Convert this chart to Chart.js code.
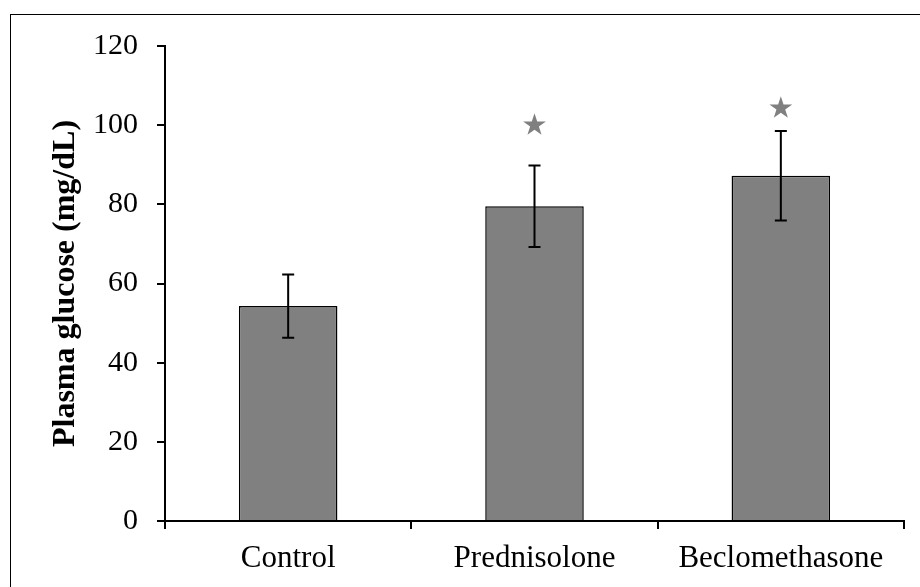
<!DOCTYPE html>
<html>
<head>
<meta charset="utf-8">
<script src="https://cdn.jsdelivr.net/npm/chart.js@4.4.1/dist/chart.umd.min.js"></script>
<style>
  html, body { margin: 0; padding: 0; background: #fff; overflow: hidden; }
  #frame { position: absolute; left: 10px; top: 14px; width: 1000px; height: 1000px; border: 1px solid #000; }
  #c { position: absolute; left: 0; top: 0; }
</style>
</head>
<body>
<div id="frame"></div>
<canvas id="c" width="920" height="587"></canvas>
<script>
// data
const groups = ['Control', 'Prednisolone', 'Beclomethasone'];
const glucose = [54.3, 79.5, 87.2];
const sem = [8.0, 10.3, 11.3];
const starAt = [null, 100, 104.3];   // significance stars (y value of star centre)
const yTicks = [0, 20, 40, 60, 80, 100, 120];

// error bars + stars
const extras = {
  id: 'extras',
  afterDatasetsDraw(chart) {
    const ctx = chart.ctx;
    const x = chart.scales.x, y = chart.scales.y;
    ctx.save();
    ctx.strokeStyle = '#000';
    ctx.lineWidth = 2;
    glucose.forEach((v, i) => {
      const px = x.getPixelForValue(i);
      const top = y.getPixelForValue(v + sem[i]);
      const bot = y.getPixelForValue(v - sem[i]);
      ctx.beginPath();
      ctx.moveTo(px, top); ctx.lineTo(px, bot);
      ctx.moveTo(px - 6, top); ctx.lineTo(px + 6, top);
      ctx.moveTo(px - 6, bot); ctx.lineTo(px + 6, bot);
      ctx.stroke();
    });
    // stars
    ctx.fillStyle = '#808080';
    starAt.forEach((v, i) => {
      if (v == null) return;
      const cx = x.getPixelForValue(i), cy = y.getPixelForValue(v);
      const R = 12, r = 4.6;
      ctx.beginPath();
      for (let k = 0; k < 10; k++) {
        const a = -Math.PI / 2 + k * Math.PI / 5;
        const rr = k % 2 ? r : R;
        ctx.lineTo(cx + rr * Math.cos(a), cy + rr * Math.sin(a));
      }
      ctx.closePath();
      ctx.fill();
    });
    ctx.restore();
  }
};

new Chart(document.getElementById('c'), {
  type: 'bar',
  data: {
    labels: groups,
    datasets: [{
      data: glucose,
      backgroundColor: '#808080',
      borderColor: '#000',
      borderWidth: 1.5,
      barPercentage: 0.4,
      categoryPercentage: 1
    }]
  },
  options: {
    responsive: false,
    devicePixelRatio: 1,
    animation: false,
    layout: { padding: { left: 0, top: 46, right: 16, bottom: 0 } },
    plugins: { legend: { display: false }, tooltip: { enabled: false } },
    scales: {
      x: {
        grid: { drawOnChartArea: false, drawTicks: true, tickLength: 8, color: '#000', lineWidth: 2 },
        border: { color: '#000', width: 2 },
        ticks: { color: '#000', padding: 11, font: { family: 'Liberation Serif', size: 31 } },
        afterFit: s => { s.height = 66; }
      },
      y: {
        min: 0, max: 120,
        afterBuildTicks: s => { s.ticks = yTicks.map(v => ({ value: v })); },
        grid: { drawOnChartArea: false, drawTicks: true, tickLength: 8, color: '#000', lineWidth: 2 },
        border: { color: '#000', width: 2 },
        ticks: { color: '#000', padding: 19, font: { family: 'Liberation Serif', size: 30 } },
        title: {
          display: true,
          text: 'Plasma glucose (mg/dL)',
          color: '#000',
          font: { family: 'Liberation Serif', size: 32, weight: 'bold' },
          padding: { top: 47, bottom: 0 }
        },
        afterFit: s => { s.width = 165; }
      }
    }
  },
  plugins: [extras]
});
</script>
</body>
</html>
